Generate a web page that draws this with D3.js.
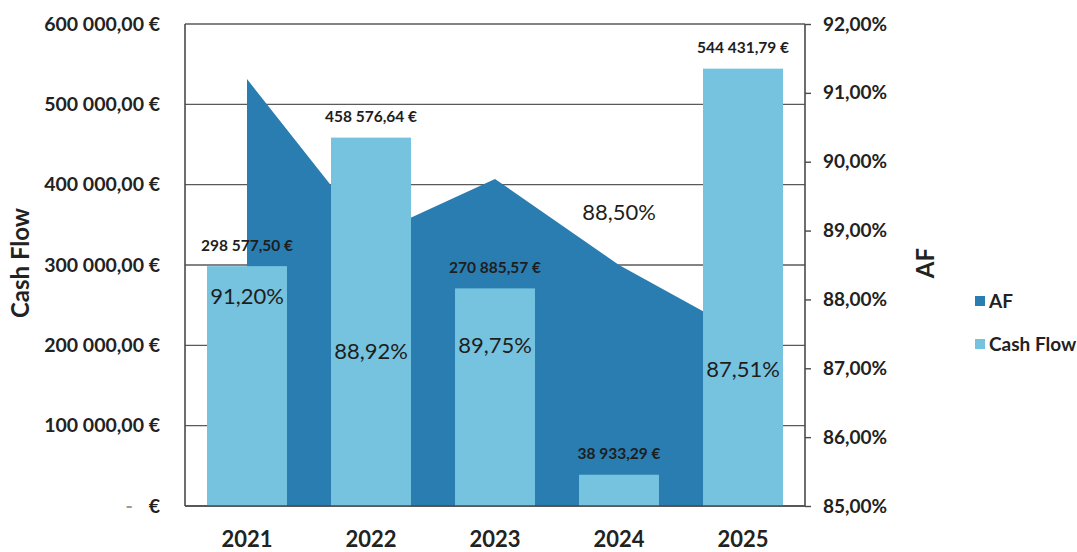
<!DOCTYPE html>
<html>
<head>
<meta charset="utf-8">
<script src="https://cdn.jsdelivr.net/npm/d3@7"></script>
<style>
  html, body { margin: 0; padding: 0; background: #fff; }
  svg { display: block; font-family: Lato, "Open Sans", sans-serif; }
</style>
</head>
<body>
<svg id="chart" width="1077" height="552"></svg>
<script>
// Years on the category axis
const years = ["2021", "2022", "2023", "2024", "2025"];
// Cash flow per year (EUR)
const cashFlow = [298577.50, 458576.64, 270885.57, 38933.29, 544431.79];
// AF ratio per year (%)
const af = [91.20, 88.92, 89.75, 88.50, 87.51];
// Where each AF label sits, in AF-axis units
const afLabelAt = [88.04, 87.24, 87.34, 89.27, 86.98];
// Axis ticks
const cashTicks = [0, 100000, 200000, 300000, 400000, 500000, 600000];
const afTicks = [85, 86, 87, 88, 89, 90, 91, 92];
// Series names for the legend
const seriesNames = ["AF", "Cash Flow"];

const colAF = "#2a7db0";
const colCash = "#76c3df";
const ink = "#1e1e1e";

const svg = d3.select("#chart");
const plot = { left: 185, right: 805, top: 24, bottom: 506 };

const x = d3.scaleBand().domain(years).range([plot.left, plot.right])
  .paddingInner(0.355).paddingOuter(0.1775);
const xc = d => x(d) + x.bandwidth() / 2;
const yCash = d3.scaleLinear().domain([0, 600000]).range([plot.bottom, plot.top]);
const yAF = d3.scaleLinear().domain([85, 92]).range([plot.bottom, plot.top]);

const loc = d3.formatLocale({ decimal: ",", thousands: "\u00a0", grouping: [3], currency: ["", "\u00a0€"] });
const fmtEur = loc.format("$,.2f");
const fmtPct = v => loc.format(".2f")(v) + "%";

// Horizontal gridlines
svg.append("g").selectAll("line").data(cashTicks).join("line")
  .attr("x1", plot.left).attr("x2", plot.right)
  .attr("y1", d => yCash(d)).attr("y2", d => yCash(d))
  .attr("stroke", "#5a5a5a").attr("stroke-width", 1.4);

// AF area from first to last category centre
const area = d3.area()
  .x((d, i) => xc(years[i]))
  .y0(yAF(85))
  .y1(d => yAF(d));
svg.append("path").datum(af).attr("d", area).attr("fill", colAF);

// Cash flow bars
svg.append("g").selectAll("rect").data(cashFlow).join("rect")
  .attr("x", (d, i) => x(years[i]))
  .attr("width", x.bandwidth())
  .attr("y", d => yCash(d))
  .attr("height", d => yCash(0) - yCash(d))
  .attr("fill", colCash);

// Frame / axes lines
const frame = svg.append("g").attr("stroke", "#4a4a4a").attr("stroke-width", 1.6);
frame.append("line").attr("x1", plot.left).attr("x2", plot.left).attr("y1", plot.top).attr("y2", plot.bottom);
frame.append("line").attr("x1", plot.right).attr("x2", plot.right).attr("y1", plot.top).attr("y2", plot.bottom);
frame.append("line").attr("x1", plot.left).attr("x2", plot.right).attr("y1", plot.bottom).attr("y2", plot.bottom);

// Left axis
const leftAxis = svg.append("g").attr("transform", `translate(${plot.left},0)`)
  .call(d3.axisLeft(yCash).tickValues(cashTicks).tickSize(0).tickPadding(25)
    .tickFormat(d => d === 0 ? "" : fmtEur(d)));
leftAxis.select(".domain").remove();
leftAxis.selectAll("text").attr("font-size", 19.5).attr("font-weight", 700).attr("fill", "#222")
  .attr("font-family", "Lato, sans-serif");
// zero shown as a dash, accounting style
const zeroTick = leftAxis.selectAll(".tick").filter(d => d === 0).select("text");
zeroTick.append("tspan").attr("fill", "#999").text("-");
zeroTick.append("tspan").attr("dx", 16).text("€");

// Right axis
const rightAxis = svg.append("g").attr("transform", `translate(${plot.right},0)`)
  .call(d3.axisRight(yAF).tickValues(afTicks).tickSize(6).tickPadding(12).tickFormat(fmtPct));
rightAxis.select(".domain").remove();
rightAxis.selectAll("line").attr("stroke", "#4a4a4a").attr("stroke-width", 1.4);
rightAxis.selectAll("text").attr("font-size", 19).attr("font-weight", 700).attr("fill", "#222")
  .attr("font-family", "Lato, sans-serif");

// Category axis
const bottomAxis = svg.append("g").attr("transform", `translate(0,${plot.bottom})`)
  .call(d3.axisBottom(x).tickSize(0).tickPadding(0));
bottomAxis.select(".domain").remove();
bottomAxis.selectAll("text").attr("font-size", 22).attr("font-weight", 700).attr("fill", "#222")
  .attr("font-family", "Lato, sans-serif").attr("y", 41).attr("dy", 0);

// Bar value labels
svg.append("g").selectAll("text").data(cashFlow).join("text")
  .attr("x", (d, i) => xc(years[i]))
  .attr("y", d => yCash(d) - 21)
  .attr("dy", "0.35em")
  .attr("text-anchor", "middle")
  .attr("font-size", 15.5).attr("font-weight", 700).attr("fill", ink)
  .text(d => fmtEur(d));

// AF value labels
svg.append("g").selectAll("text").data(af).join("text")
  .attr("x", (d, i) => xc(years[i]))
  .attr("y", (d, i) => yAF(afLabelAt[i]))
  .attr("dy", "0.35em")
  .attr("text-anchor", "middle")
  .attr("font-size", 22).attr("fill", ink)
  .text(d => fmtPct(d));

// Axis titles
svg.append("text").attr("transform", "translate(29,263) rotate(-90)")
  .attr("text-anchor", "middle").attr("font-size", 24).attr("font-weight", 700).attr("fill", "#222")
  .text("Cash Flow");
svg.append("text").attr("transform", "translate(934,263) rotate(-90)")
  .attr("text-anchor", "middle").attr("font-size", 24).attr("font-weight", 700).attr("fill", "#222")
  .text("AF");

// Legend
const legend = svg.append("g").selectAll("g").data(seriesNames).join("g")
  .attr("transform", (d, i) => `translate(975,${301 + i * 43})`);
legend.append("rect").attr("x", 0).attr("y", -5).attr("width", 10).attr("height", 10)
  .attr("fill", (d, i) => i === 0 ? colAF : colCash);
legend.append("text").attr("x", 14).attr("dy", "0.35em")
  .attr("font-size", 19).attr("font-weight", 700).attr("fill", "#222").text(d => d);
</script>
</body>
</html>
